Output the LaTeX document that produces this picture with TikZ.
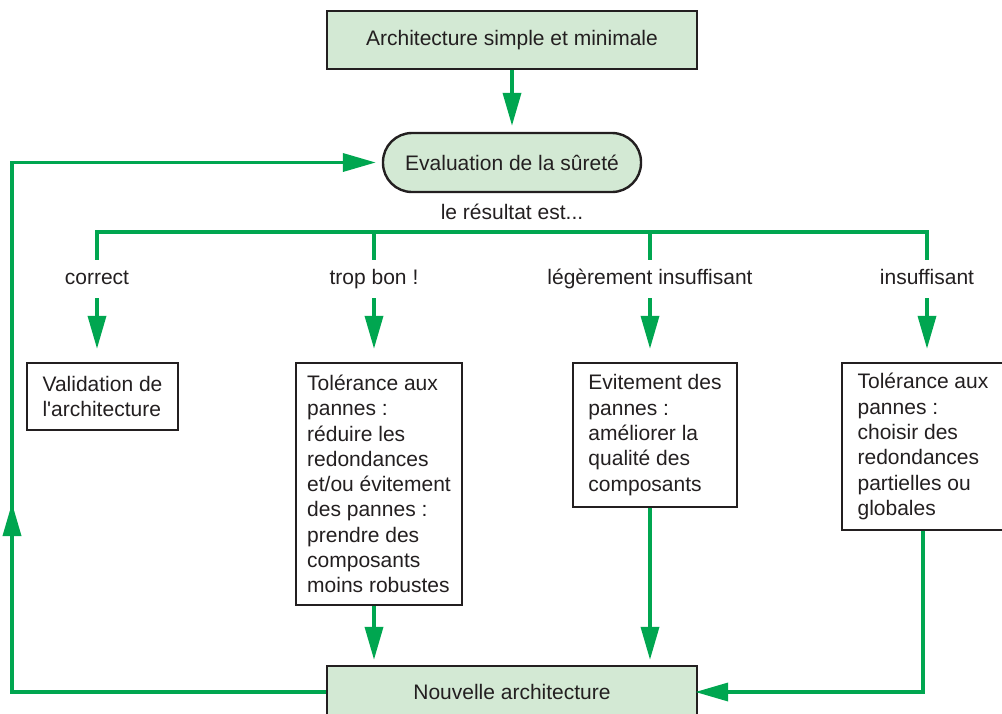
\documentclass[tikz,border=0pt]{standalone}
\usepackage{fontspec}
\setmainfont{Liberation Sans}[Ligatures=TeXOff]
\usetikzlibrary{arrows.meta}
\definecolor{grn}{HTML}{00A650}
\definecolor{fillg}{HTML}{D3E9D4}
\definecolor{ink}{HTML}{231F20}
\begin{document}
\begin{tikzpicture}[x=1pt,y=-1pt,
  every node/.style={font=\fontsize{21}{25.3}\selectfont, text=ink},
  greenbox/.style={draw=ink, line width=2.4pt, fill=fillg, inner sep=0pt},
  whitebox/.style={draw=ink, line width=2.4pt, fill=white, align=left, inner sep=0pt},
  link/.style={draw=grn, line width=3.6pt},
  arr/.style={link, -{Triangle[length=33pt,width=18pt]}},
  lab/.style={minimum height=38pt, inner sep=0pt, text height=15pt, text depth=4.5pt}]
\useasboundingbox (0,0) rectangle (1002,713);

\node[greenbox, minimum width=370pt, minimum height=58pt] (top) at (512,40) {Architecture simple et minimale};
\node[greenbox, rounded corners=29pt, minimum width=258pt, minimum height=59pt] (eval) at (512,162.5) {Evaluation de la sûreté};
\node (res) at (512,212) {le résultat est...};

\node[lab] (l1) at (97,279) {correct};
\node[lab] (l2) at (374,279) {trop bon !};
\node[lab] (l3) at (650,279) {légèrement insuffisant};
\node[lab] (l4) at (927,279) {insuffisant};

\coordinate (h1) at (97,232);
\coordinate (h2) at (374,232);
\coordinate (h3) at (650,232);
\coordinate (h4) at (927,232);

\node[whitebox, minimum width=151pt, minimum height=67pt] (b1) at (102.5,396.5) {Validation de\\l'architecture};
\node[whitebox, minimum width=166pt, minimum height=242pt] (b2) at (379,484) {Tolérance aux\\pannes :\\réduire les\\redondances\\et/ou évitement\\des pannes :\\prendre des\\composants\\moins robustes};
\node[whitebox, minimum width=164pt, minimum height=144pt] (b3) at (655,435) {Evitement des\\pannes :\\améliorer la\\qualité des\\composants};
\node[whitebox, minimum width=162pt, minimum height=167pt] (b4) at (923,446.5) {Tolérance aux\\pannes :\\choisir des\\redondances\\partielles ou\\globales};

\node[greenbox, minimum width=370pt, minimum height=52pt] (nv) at (512,692) {Nouvelle architecture};

\coordinate (lc) at (12,503);
\coordinate (lcb) at (12,515);

\draw[arr, shorten >=6pt] (top.south) -- (eval.north);
\draw[link] (l1.north) -- (h1) -- (h4) -- (l4.north);
\draw[link] (h2) -- (l2.north);
\draw[link] (h3) -- (l3.north);
\draw[arr, shorten >=13pt] (l1.south) -- (l1.south |- b1.north);
\draw[arr, shorten >=13pt] (l2.south) -- (l2.south |- b2.north);
\draw[arr, shorten >=13pt] (l3.south) -- (l3.south |- b3.north);
\draw[arr, shorten >=13pt] (l4.south) -- (l4.south |- b4.north);
\draw[arr, shorten >=5pt] (l2 |- b2.south) -- (l2 |- nv.north);
\draw[arr, shorten >=5pt] (l3 |- b3.south) -- (l3 |- nv.north);
\draw[arr, shorten >=-3pt] (b4.south) |- (nv.east);
\draw[arr] (nv.west) -| (lc);
\draw[arr, shorten >=6pt] (lcb) |- (eval.west);
\end{tikzpicture}
\end{document}
